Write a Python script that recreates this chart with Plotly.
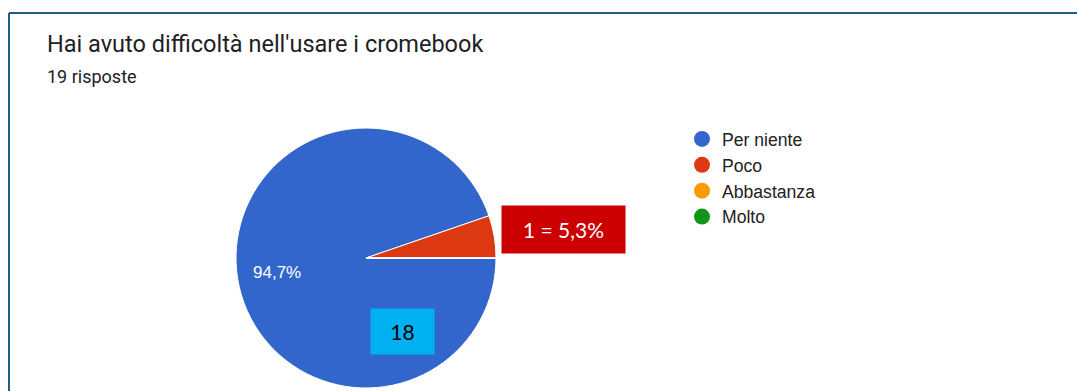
import plotly.graph_objects as go

W, H = 1077, 391

# Data
categories = ["Per niente", "Poco", "Abbastanza", "Molto"]
values = [18, 1, 0, 0]
colors = ["#3366cc", "#dc3912", "#ff9900", "#109618"]
title_text = "Hai avuto difficoltà nell'usare i cromebook"
responses = sum(values)
subtitle_text = f"{responses} risposte"

def px_x(x):
    return x / W

def px_y(y):
    return 1 - y / H

def pct(v):
    return f"{100 * v / responses:.1f}".replace(".", ",") + "%"

fig = go.Figure()

# Pie (centre ~ (366,258), radius ~130 px)
cx, cy, r = 366, 258, 130
fig.add_trace(go.Pie(
    labels=categories,
    values=values,
    marker=dict(colors=colors, line=dict(color="white", width=1)),
    sort=False,
    direction="clockwise",
    rotation=90,
    textinfo="none",
    hoverinfo="label+value+percent",
    showlegend=False,
    domain=dict(x=[px_x(cx - r), px_x(cx + r)], y=[px_y(cy + r), px_y(cy - r)]),
))

# Legend with circle markers
for cat, col in zip(categories, colors):
    fig.add_trace(go.Scatter(
        x=[None], y=[None], mode="markers", name=cat,
        marker=dict(color=col, size=18, symbol="circle"),
        showlegend=True,
    ))

annotations = [
    dict(text=title_text, x=px_x(45), y=px_y(44), xref="paper", yref="paper",
         xanchor="left", yanchor="middle", showarrow=False,
         font=dict(family="Roboto", size=23.5, color="#202124")),
    dict(text=subtitle_text, x=px_x(45), y=px_y(76), xref="paper", yref="paper",
         xanchor="left", yanchor="middle", showarrow=False,
         font=dict(family="Roboto", size=18, color="#202124")),
    dict(text=pct(values[0]), x=px_x(277), y=px_y(272), xref="paper", yref="paper",
         xanchor="center", yanchor="middle", showarrow=False,
         font=dict(family="Arial", size=17, color="white")),
    dict(text=f"{values[1]} = {pct(values[1])}", x=px_x(563.5), y=px_y(229.5),
         xref="paper", yref="paper", xanchor="center", yanchor="middle",
         showarrow=False, bgcolor="#cc0000", width=123, height=47, borderpad=0,
         font=dict(family="Lato", size=21, color="white")),
    dict(text=f"{values[0]}", x=px_x(402.5), y=px_y(331.5),
         xref="paper", yref="paper", xanchor="center", yanchor="middle",
         showarrow=False, bgcolor="#00b0f0", width=63, height=45, borderpad=0,
         font=dict(family="Lato", size=21, color="black")),
]

border = "#1f5f86"
shapes = [
    dict(type="line", xref="paper", yref="paper", x0=px_x(9), x1=1, y0=px_y(13), y1=px_y(13),
         line=dict(color=border, width=2)),
    dict(type="line", xref="paper", yref="paper", x0=px_x(9), x1=px_x(9), y0=px_y(13), y1=0,
         line=dict(color=border, width=2)),
]

fig.update_layout(
    width=W, height=H,
    margin=dict(l=0, r=0, t=0, b=0),
    paper_bgcolor="white", plot_bgcolor="white",
    xaxis=dict(visible=False), yaxis=dict(visible=False),
    legend=dict(x=px_x(682), y=px_y(121), xanchor="left", yanchor="top",
                font=dict(family="Arial", size=17.6, color="#222222"),
                itemsizing="trace", tracegroupgap=0, bgcolor="rgba(0,0,0,0)"),
    annotations=annotations,
    shapes=shapes,
)

fig.write_html("out.html")
